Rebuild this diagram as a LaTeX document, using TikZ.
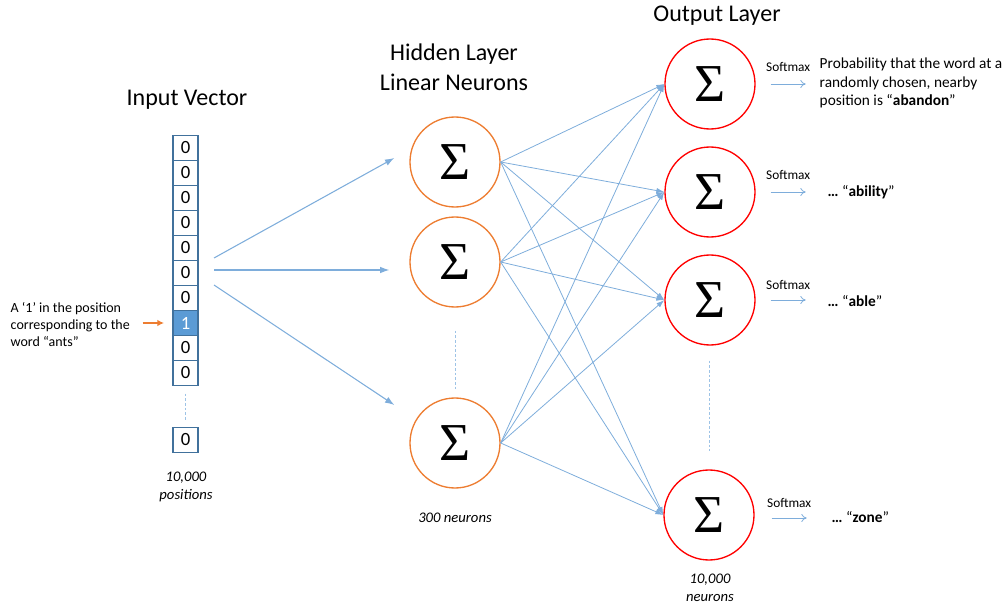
\documentclass[tikz,border=0pt]{standalone}
\usepackage{fontspec}
\setmainfont{Carlito}
\newfontfamily\sigmafont{Liberation Serif}
\usetikzlibrary{arrows.meta,positioning}
\definecolor{boxblue}{HTML}{41719C}
\definecolor{cellblue}{HTML}{5B9BD5}
\definecolor{lineblue}{HTML}{7EADDB}
\definecolor{gapblue}{HTML}{9DC3E6}
\definecolor{hidorange}{HTML}{ED7D31}
\definecolor{outred}{HTML}{FF0000}

\begin{document}
\begin{tikzpicture}[
        x=0.75pt, y=-0.75pt,
        font=\fontsize{10.5}{12.75}\selectfont,
        cell/.style={
            draw=boxblue, line width=0.9pt, outer sep=0pt,
            minimum size=18.75pt, inner sep=0pt,
            font=\fontsize{14}{16}\selectfont
        },
        neuron/.style={
            circle, line width=1pt, minimum size=67.5pt, inner sep=0pt,
            font=\sigmafont\fontsize{40}{44}\selectfont
        },
        hidden/.style={neuron, draw=hidorange},
        output/.style={neuron, draw=outred},
        title/.style={font=\fontsize{18}{22.5}\selectfont, align=center},
        note/.style={font=\fontsize{11}{13.5}\selectfont\itshape, align=center},
        word/.style={font=\fontsize{11.5}{14}\selectfont, anchor=west, align=left},
        softlabel/.style={font=\fontsize{10}{12}\selectfont},
        inarrow/.style={draw=lineblue, line width=0.8pt, -{Latex[length=7pt,width=5pt]}},
        link/.style={draw=lineblue, line width=0.6pt, -{Latex[length=6pt,width=4pt]}},
        soft/.style={draw=lineblue, line width=0.6pt, -{To[length=4pt,width=6pt]}},
        gap/.style={draw=gapblue, line width=0.7pt, dash pattern=on 2pt off 1.5pt}
    ]
        \useasboundingbox (0,0) rectangle (1004,606);

        % Titles
        \node[title] (tin) at (187,100) {Input Vector};
        \node[title] (thid) at (454,67) {Hidden Layer\\Linear Neurons};
        \node[title] (tout) at (717,16) {Output Layer};

        % Input vector
        \node[cell] (v1) at (185.5,148) {0};
        \node[cell, below=0pt of v1] (v2) {0};
        \node[cell, below=0pt of v2] (v3) {0};
        \node[cell, below=0pt of v3] (v4) {0};
        \node[cell, below=0pt of v4] (v5) {0};
        \node[cell, below=0pt of v5] (v6) {0};
        \node[cell, below=0pt of v6] (v7) {0};
        \node[cell, fill=cellblue, text=white, below=0pt of v7] (v8) {1};
        \node[cell, below=0pt of v8] (v9) {0};
        \node[cell, below=0pt of v9] (v10) {0};
        \node[cell] (vlast) at (185.5,440) {0};
        \draw[gap] ([shift={(0,8)}]v10.south) -- ([shift={(0,-7)}]vlast.north);
        \node[note] (npos) at (186,487) {10,000\\positions};

        % Word marker
        \node[anchor=west, align=left] (ants) at (6,325)
            {A `1' in the position\\corresponding to the\\word ``ants''};
        \draw[hidorange, line width=1.2pt, -{Latex[length=5pt,width=5pt]}]
            ([shift={(8,-2)}]ants.east) -- ([shift={(-9,0)}]v8.west);

        % Hidden layer
        \node[hidden] (h1) at (455,162) {Σ};
        \node[hidden] (h2) at (455,262) {Σ};
        \node[hidden] (h3) at (455,443) {Σ};
        \draw[gap] ([shift={(0,23)}]h2.south) -- ([shift={(0,-8)}]h3.north);
        \node[note] (nhid) at (455,518) {300 neurons};

        \coordinate (i1) at (214,258);
        \coordinate (i2) at (214,270);
        \coordinate (i3) at (214,285);
        \draw[inarrow] (i1) -- ([shift={(-15,-4)}]h1.west);
        \draw[inarrow] (i2) -- ([shift={(-20,8)}]h2.west);
        \draw[inarrow] (i3) -- ([shift={(-15,-38)}]h3.west);

        % Output layer
        \node[output] (o1) at (710,84) {Σ};
        \node[output] (o2) at (710,192) {Σ};
        \node[output] (o3) at (710,300) {Σ};
        \node[output] (o4) at (709,515) {Σ};
        \draw[gap] ([shift={(-1,15)}]o3.south) -- ([shift={(0,-18)}]o4.north);
        \node[note] (nout) at (710,588) {10,000\\neurons};

        % Hidden to output
        \foreach \h in {h1,h2,h3}
            \foreach \o in {o1,o2,o3,o4}
                \draw[link] (\h.east) -- (\o.west);

        % Softmax
        \draw[soft] ([shift={(15,0)}]o1.east) -- node[above=6pt, softlabel] {Softmax} ++(35,0);
        \draw[soft] ([shift={(15,0)}]o2.east) -- node[above=6pt, softlabel] {Softmax} ++(35,0);
        \draw[soft] ([shift={(15,0)}]o3.east) -- node[above=4pt, softlabel] {Softmax} ++(35,0);
        \draw[soft] ([shift={(17,3)}]o4.east) -- node[above=4pt, softlabel] {Softmax} ++(35,0);

        \node[word] (w1) at (815,83)
            {Probability that the word at a\\randomly chosen, nearby\\position is ``\textbf{abandon}''};
        \node[word] (w2) at (823,192) {\textbf{\dots} ``\textbf{ability}''};
        \node[word] (w3) at (823,301) {\textbf{\dots} ``\textbf{able}''};
        \node[word] (w4) at (827,517) {\textbf{\dots} ``\textbf{zone}''};

    \end{tikzpicture}
\end{document}
